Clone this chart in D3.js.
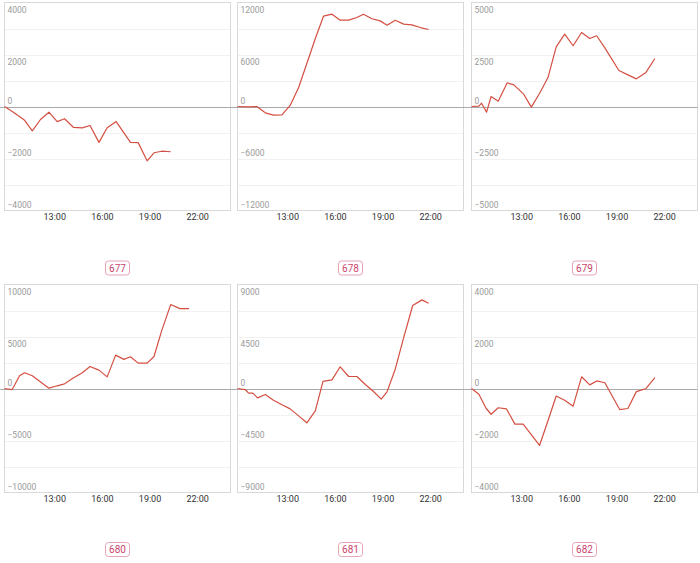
<!DOCTYPE html>
<html><head><meta charset="utf-8">
<script src="https://cdn.jsdelivr.net/npm/d3@7"></script>
<style>
html,body{margin:0;padding:0;background:#fff;}
svg{display:block;font-family:Roboto,"Noto Sans",sans-serif;}
</style></head>
<body><svg id="chart" width="700" height="563"></svg>
<script>
const panelIds = ["677", "678", "679", "680", "681", "682"];
const yMax = [4000, 12000, 5000, 10000, 9000, 4000];
const xTickLabels = ["13:00", "16:00", "19:00", "22:00"];
const xStart = "09:52";
const xEnd = "24:06";

const time677 = ["09:52","10:27","11:08","11:37","12:08","12:40","13:11","13:39","14:12","14:46","15:15","15:49","16:20","16:54","17:48","18:17","18:51","19:17","19:46","20:20"];
const value677 = [0,-230,-530,-940,-500,-220,-580,-470,-800,-820,-730,-1380,-820,-580,-1380,-1390,-2090,-1780,-1720,-1740];

const time678 = ["09:52","10:34","11:05","11:37","12:08","12:40","13:11","13:43","14:14","14:46","15:17","15:49","16:20","16:52","17:23","17:48","18:20","18:51","19:17","19:48","20:20","20:51","21:23","21:54"];
const value678 = [0,-40,0,-730,-1000,-960,120,2200,4960,7850,10420,10650,9960,9960,10270,10650,10120,9880,9380,9960,9500,9420,9110,8880];

const time679 = ["09:52","10:20","10:30","10:49","11:06","11:33","12:07","12:32","13:10","13:38","14:09","14:41","15:12","15:44","16:16","16:48","17:19","17:45","18:16","19:09","19:43","20:15","20:50","21:25"];
const value679 = [0,16,160,-270,480,256,1140,1040,580,-30,625,1390,2870,3480,2920,3560,3270,3400,2820,1730,1520,1330,1620,2310];

const time680 = ["09:52","10:21","10:49","11:08","11:37","12:40","13:11","13:39","14:12","14:46","15:15","15:49","16:20","16:52","17:23","17:48","18:17","18:51","19:17","19:46","20:20","20:55","21:29"];
const value680 = [0,-100,1220,1510,1220,30,260,450,1000,1510,2120,1770,1120,3210,2800,3050,2440,2440,3080,5560,8070,7680,7680];

const time681 = ["09:52","10:21","10:34","10:50","11:08","11:37","12:08","12:40","13:11","13:43","14:14","14:46","15:15","15:49","16:20","16:52","17:23","17:55","18:26","18:55","19:17","19:48","20:20","20:54","21:29","21:54"];
const value681 = [0,-90,-400,-400,-810,-520,-1010,-1410,-1760,-2370,-2970,-1930,610,750,1880,1040,1040,350,-260,-920,-290,1670,4410,7180,7670,7380];

const time682 = ["09:52","10:20","10:47","11:06","11:33","12:04","12:36","13:07","13:38","14:09","14:41","15:12","15:44","16:16","16:48","17:19","17:45","18:16","19:12","19:43","20:15","20:50","21:25"];
const value682 = [0,-220,-760,-990,-740,-780,-1370,-1370,-1770,-2190,-1240,-290,-450,-680,450,140,290,220,-810,-770,-120,-10,420];

const panelTimes = [time677, time678, time679, time680, time681, time682];
const panelValues = [value677, value678, value679, value680, value681, value682];

function toHours(s) { const [h, m] = s.split(":").map(Number); return h + m / 60; }

const svg = d3.select("#chart");
const W = 700, H = 563;
const cols = 3, rows = 2;
const cellW = W / cols, cellH = H / rows;

panelIds.forEach((id, i) => {
  const c = i % cols, r = Math.floor(i / cols);
  const left = Math.round(c * cellW + 4) + 0.5;
  const right = Math.round(c * cellW + 230) + 0.5;
  const top = Math.round(r * cellH + 2) + 0.5;
  const bottom = top + 208;

  const x = d3.scaleLinear().domain([toHours(xStart), toHours(xEnd)]).range([left, right]);
  const M = yMax[i];
  const y = d3.scaleLinear().domain([-M, M]).range([bottom, top]);

  const g = svg.append("g");

  const gridVals = d3.range(-M + M / 4, M, M / 4).filter(v => Math.abs(v) > 1e-9);
  g.selectAll("line.grid").data(gridVals).enter().append("line")
    .attr("x1", left).attr("x2", right)
    .attr("y1", d => Math.round(y(d)) + 0.5).attr("y2", d => Math.round(y(d)) + 0.5)
    .attr("stroke", "#f1f1f1").attr("stroke-width", 1);

  g.append("rect").attr("x", left).attr("y", top)
    .attr("width", right - left).attr("height", bottom - top)
    .attr("fill", "none").attr("stroke", "#d9d9d9").attr("stroke-width", 1);

  g.append("line").attr("x1", left - 9).attr("x2", right)
    .attr("y1", Math.round(y(0)) + 0.5).attr("y2", Math.round(y(0)) + 0.5)
    .attr("stroke", "#aaaaaa").attr("stroke-width", 1);

  const yLabels = [M, M / 2, 0, -M / 2, -M];
  g.selectAll("text.yl").data(yLabels).enter().append("text")
    .attr("x", left + 3)
    .attr("y", d => d > 0 ? y(d) + 10.3 : y(d) - 2.7)
    .attr("font-size", 8.5).attr("fill", "#9a9a9a")
    .text(d => d3.format("d")(d));

  const xAxis = d3.axisBottom(x)
    .tickValues(xTickLabels.map(toHours))
    .tickFormat((d, k) => xTickLabels[k])
    .tickSize(0).tickPadding(3);
  const ax = g.append("g").attr("transform", `translate(0,${bottom})`).call(xAxis);
  ax.select(".domain").remove();
  ax.selectAll("text").attr("font-size", 9).attr("fill", "#333").attr("font-family", "Roboto");

  const pts = panelTimes[i].map((t, k) => [toHours(t), panelValues[i][k]]);
  g.append("path").datum(pts)
    .attr("d", d3.line().x(d => x(d[0])).y(d => y(d[1])))
    .attr("fill", "none").attr("stroke", "#d44f42").attr("stroke-width", 1.2)
    .attr("stroke-linejoin", "round");

  const cx = (left + right) / 2;
  const cy = r * cellH + 268;
  const lg = g.append("g");
  lg.append("rect")
    .attr("x", cx - 12).attr("y", cy - 7).attr("width", 24).attr("height", 14)
    .attr("rx", 3).attr("ry", 3)
    .attr("fill", "#fff").attr("stroke", "#e6a3b7").attr("stroke-width", 1);
  lg.append("text").attr("x", cx).attr("y", cy + 3.6)
    .attr("text-anchor", "middle").attr("font-size", 10).attr("fill", "#c9456d")
    .text(id);
});
</script>
</body></html>
